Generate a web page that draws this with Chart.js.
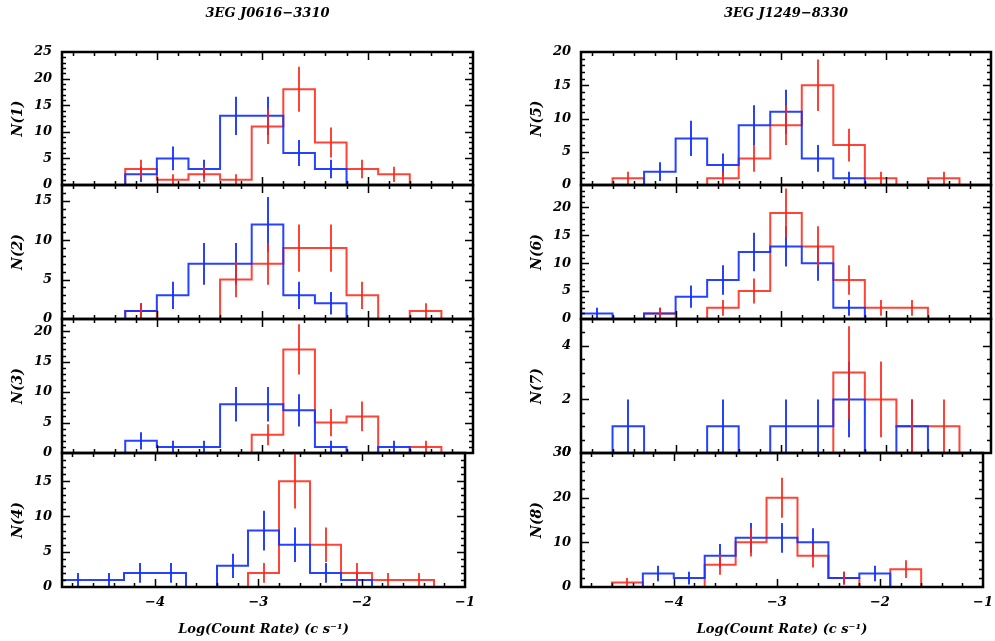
<!DOCTYPE html>
<html>
<head>
<meta charset="utf-8">
<script src="https://cdn.jsdelivr.net/npm/chart.js@4"></script>
<style>
  html, body { margin: 0; padding: 0; background: #fff; overflow: hidden; }
  #wrap { position: relative; width: 995px; height: 641px; overflow: hidden; }
  #wrap canvas { position: absolute; }
</style>
</head>
<body>
<div id="wrap"></div>
<script>
// count-rate bins (log c/s), 0.3 dex wide
const binCenters = [-4.75, -4.45, -4.15, -3.85, -3.55, -3.25, -2.95, -2.65, -2.35, -2.05, -1.75, -1.45, -1.15];
const binWidth = 0.3;
const xTickValues = [-4, -3, -2, -1];

const sourceNames = ['3EG J0616−3310', '3EG J1249−8330'];

// 3EG J0616-3310, panels N(1)..N(4)
const blue1 = [0, 0, 2, 5, 3, 13, 13, 6, 3, 0, 0, 0, 0];
const red1  = [0, 0, 3, 1, 2, 1, 11, 18, 8, 3, 2, 0, 0];
const blue2 = [0, 0, 1, 3, 7, 7, 12, 3, 2, 0, 0, 0, 0];
const red2  = [0, 0, 1, 0, 0, 5, 7, 9, 9, 3, 0, 1, 0];
const blue3 = [0, 0, 2, 1, 1, 8, 8, 7, 1, 0, 1, 0, 0];
const red3  = [0, 0, 0, 0, 0, 0, 3, 17, 5, 6, 0, 1, 0];
const blue4 = [1, 1, 2, 2, 0, 3, 8, 6, 2, 1, 0, 0, 0];
const red4  = [0, 0, 0, 0, 0, 0, 2, 15, 6, 2, 1, 1, 0];

// 3EG J1249-8330, panels N(5)..N(8)
const blue5 = [0, 0, 2, 7, 3, 9, 11, 4, 1, 0, 0, 0, 0];
const red5  = [0, 1, 0, 0, 1, 4, 9, 15, 6, 1, 0, 1, 0];
const blue6 = [1, 0, 1, 4, 7, 12, 13, 10, 2, 0, 0, 0, 0];
const red6  = [0, 0, 1, 0, 2, 5, 19, 13, 7, 2, 2, 0, 0];
const blue7 = [0, 1, 0, 0, 1, 0, 1, 1, 2, 0, 1, 0, 0];
const red7  = [0, 0, 0, 0, 0, 0, 0, 0, 3, 2, 1, 1, 0];
const blue8 = [0, 0, 3, 2, 7, 11, 11, 10, 2, 3, 0, 0, 0];
const red8  = [0, 1, 0, 0, 5, 10, 20, 7, 2, 0, 4, 0, 0];

// y axis ranges: [max, label step, minor step]
const yRanges = [
  [25, 5, 1], [17, 5, 1], [22, 5, 1], [19, 5, 1],
  [20, 5, 1], [24, 5, 1], [5, 2, 0.5], [30, 10, 2]
];

const BLUE = 'rgba(20,50,255,0.92)';
const RED = 'rgba(255,35,20,0.85)';
const FONT = 'DejaVu Serif';

// plot frame geometry
const cols = [{ left: 62, right: 473 }, { left: 581, right: 991 }];
const rowTops = [52, 185, 319, 453];
const rowBottom = 587;
const yAxisWidth = 62;
const padRight = 10;
const padEdge = 22;

Chart.defaults.font.family = FONT;
Chart.defaults.font.style = 'italic';
Chart.defaults.font.weight = 'bold';
Chart.defaults.color = '#000';

function minus(v) {
  return v < 0 ? '−' + Math.abs(v) : String(v);
}

// histogram outline: rise at the first edge, one point per right edge, drop at the end
function stepPoints(counts) {
  const pts = [{ x: binCenters[0] - binWidth / 2, y: 0 }];
  counts.forEach((n, i) => pts.push({ x: binCenters[i] + binWidth / 2, y: n }));
  pts.push({ x: binCenters[counts.length - 1] + binWidth / 2, y: 0 });
  return pts;
}

// sqrt(N) error bars, inward ticks on every side, and the box
const framePlugin = {
  id: 'frame',
  afterDatasetsDraw(chart, args, opts) {
    const { ctx, chartArea: a, scales: { x, y } } = chart;
    ctx.save();
    ctx.beginPath();
    ctx.rect(a.left, a.top, a.width, a.height);
    ctx.clip();
    ctx.lineWidth = 2;
    chart.data.datasets.forEach(ds => {
      ctx.strokeStyle = ds.borderColor;
      ctx.beginPath();
      ds.counts.forEach((n, i) => {
        if (n <= 0) return;
        const px = Math.round(x.getPixelForValue(binCenters[i]));
        ctx.moveTo(px, y.getPixelForValue(n - Math.sqrt(n)));
        ctx.lineTo(px, y.getPixelForValue(n + Math.sqrt(n)));
      });
      ctx.stroke();
    });
    ctx.restore();

    ctx.save();
    ctx.strokeStyle = '#000';
    ctx.lineWidth = 1.5;
    ctx.beginPath();
    const k0 = Math.ceil(x.min / 0.2 + 1e-6), k1 = Math.floor(x.max / 0.2 - 1e-6);
    for (let k = k0; k <= k1; k++) {
      const v = k * 0.2;
      const len = Math.abs(v - Math.round(v)) < 1e-6 ? 8 : 4;
      const px = Math.round(x.getPixelForValue(v)) + 0.5;
      ctx.moveTo(px, a.bottom); ctx.lineTo(px, a.bottom - len);
      ctx.moveTo(px, a.top); ctx.lineTo(px, a.top + len);
    }
    const m1 = Math.floor(y.max / opts.minor - 1e-6);
    for (let k = 1; k <= m1; k++) {
      const v = k * opts.minor;
      const len = Math.abs(v / opts.major - Math.round(v / opts.major)) < 1e-6 ? 8 : 4;
      const py = Math.round(y.getPixelForValue(v)) + 0.5;
      ctx.moveTo(a.left, py); ctx.lineTo(a.left + len, py);
      ctx.moveTo(a.right, py); ctx.lineTo(a.right - len, py);
    }
    ctx.stroke();
    ctx.lineWidth = 2.5;
    ctx.strokeRect(a.left, a.top, a.width, a.height);
    ctx.restore();
  }
};

const panels = [
  [blue1, red1], [blue2, red2], [blue3, red3], [blue4, red4],
  [blue5, red5], [blue6, red6], [blue7, red7], [blue8, red8]
];

const wrap = document.getElementById('wrap');

panels.forEach(([blue, red], p) => {
  const col = cols[Math.floor(p / 4)];
  const row = p % 4;
  const [yMax, yStep, yMinor] = yRanges[p];
  const top = rowTops[row];
  const bottom = row < 3 ? rowTops[row + 1] : rowBottom;
  const isTop = row === 0;
  const isBottom = row === 3;

  const padTop = isTop ? 0 : padEdge;
  const padBottom = isBottom ? 0 : padEdge;
  const canvasTop = isTop ? 0 : top - padTop;
  const canvasBottom = isBottom ? 641 : bottom + padBottom;
  const canvasLeft = col.left - yAxisWidth;
  const width = col.right + padRight - canvasLeft;
  const height = canvasBottom - canvasTop;

  const canvas = document.createElement('canvas');
  canvas.style.left = canvasLeft + 'px';
  canvas.style.top = canvasTop + 'px';
  canvas.style.width = width + 'px';
  canvas.style.height = height + 'px';
  canvas.width = width;
  canvas.height = height;
  wrap.appendChild(canvas);

  new Chart(canvas.getContext('2d'), {
    type: 'line',
    data: {
      datasets: [
        { data: stepPoints(blue), counts: blue, borderColor: BLUE },
        { data: stepPoints(red), counts: red, borderColor: RED }
      ].map(d => Object.assign(d, {
        stepped: 'after', borderWidth: 2, pointRadius: 0, fill: false, tension: 0
      }))
    },
    options: {
      responsive: false,
      animation: false,
      events: [],
      layout: { padding: { left: 0, right: padRight, top: padTop, bottom: padBottom } },
      plugins: {
        legend: { display: false },
        tooltip: { enabled: false },
        title: {
          display: isTop,
          text: sourceNames[Math.floor(p / 4)],
          fullSize: false,
          font: { size: 13, weight: 'bold', style: 'italic' },
          padding: { top: 6, bottom: 52 - 6 - 15.6 }
        },
        frame: { major: yStep, minor: yMinor }
      },
      scales: {
        x: {
          type: 'linear',
          min: -4.9,
          max: -1.0,
          display: isBottom,
          grid: { display: false, drawTicks: false },
          border: { display: false },
          afterBuildTicks: s => { s.ticks = xTickValues.map(v => ({ value: v })); },
          afterFit: s => { s.height = isBottom ? 641 - rowBottom : 0; },
          ticks: {
            padding: 8,
            autoSkip: false,
            maxRotation: 0,
            font: { size: 13 },
            callback: v => minus(v)
          },
          title: {
            display: true,
            text: 'Log(Count Rate) (c s⁻¹)',
            font: { size: 13 },
            padding: { top: 0, bottom: 4 }
          }
        },
        y: {
          type: 'linear',
          min: 0,
          max: yMax,
          grid: { display: false, drawTicks: false },
          border: { display: false },
          afterFit: s => { s.width = yAxisWidth; },
          ticks: {
            stepSize: yStep,
            includeBounds: false,
            autoSkip: false,
            padding: 10,
            font: { size: 13 },
            callback: v => minus(v)
          },
          title: {
            display: true,
            text: 'N(' + (p + 1) + ')',
            font: { size: 14 },
            padding: { top: 10, bottom: 0 }
          }
        }
      }
    },
    plugins: [framePlugin]
  });
});
</script>
</body>
</html>
